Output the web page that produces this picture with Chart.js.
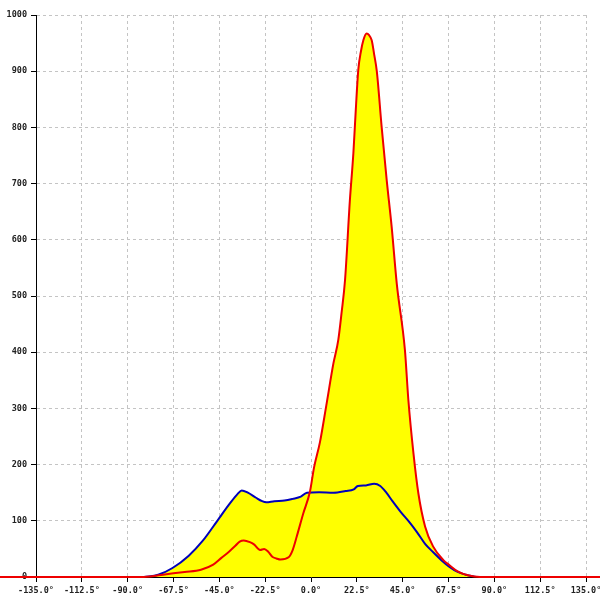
<!DOCTYPE html>
<html>
<head>
<meta charset="utf-8">
<script src="https://cdn.jsdelivr.net/npm/chart.js@4"></script>
<style>
  body { margin: 0; background: #fff; }
  #wrap { width: 600px; height: 600px; }
</style>
</head>
<body>
<div id="wrap"><canvas id="c" width="600" height="600"></canvas></div>
<script>
// angle (deg) / value pairs
const blueAngles = [-82, -75, -68, -60, -53, -46, -40, -36, -34, -31, -27, -24, -22, -18, -13, -9, -5, -2, 4, 11, 17, 21, 23, 27, 31, 34, 37, 40, 44, 48, 52, 56, 60, 64, 68, 72, 76, 81];
const blueValues = [0, 4, 16, 38, 65, 100, 130, 148, 154, 150, 141, 135, 133, 135, 136, 139, 143, 150, 151, 150, 153, 156, 162, 163, 166, 162, 150, 135, 116, 99, 80, 59, 44, 30, 18, 9, 4, 0];

const redAngles = [-160, -82, -71, -62, -54, -48, -44, -40, -37, -35, -33, -30, -28, -25, -23, -21, -19, -17, -15, -11, -9, -7, -3.8, -0.5, 1.5, 4.4, 7.5, 11, 13.4, 15, 16.7, 19.1, 20.8, 22, 23.2, 24.5, 25.7, 27.3, 28.5, 29.8, 31, 32.3, 34.7, 37.2, 39.6, 42.1, 46.1, 47.8, 50.3, 52.7, 56, 60, 65, 68, 72, 77, 83, 160];
const redValues = [0, 0, 5, 9, 13, 22, 34, 46, 56, 63, 65, 62, 58, 48, 50, 45, 36, 33, 31, 35, 48, 72, 113, 152, 195, 240, 305, 380, 422, 470, 528, 671, 754, 832, 902, 935, 955, 967, 964, 955, 930, 900, 800, 705, 623, 522, 404, 315, 220, 149, 90, 54, 30, 21, 10, 3, 0, 0];

const xMin = -135, xMax = 135, xStep = 22.5;
const yMin = 0, yMax = 1000, yStep = 100;

const toPoints = (xs, ys) => xs.map((x, i) => ({ x: x, y: ys[i] }));
const tickFont = { family: "DejaVu Sans Mono", size: 8.5, weight: "bold" };
const gridStyle = { color: "#c4c4c4", tickColor: "#000", tickLength: 5, tickBorderDash: [] };
const borderStyle = { color: "#000", width: 1, dash: [3, 3] };

new Chart(document.getElementById("c").getContext("2d"), {
  type: "line",
  data: {
    datasets: [
      {
        label: "red",
        data: toPoints(redAngles, redValues),
        borderColor: "#ee0000",
        borderWidth: 2,
        backgroundColor: "#ffff00",
        fill: "origin",
        pointRadius: 0,
        cubicInterpolationMode: "monotone",
        clip: false,
      },
      {
        label: "blue",
        data: toPoints(blueAngles, blueValues),
        borderColor: "#0000bb",
        borderWidth: 2,
        backgroundColor: "#ffff00",
        fill: "origin",
        pointRadius: 0,
        cubicInterpolationMode: "monotone",
      },
    ],
  },
  options: {
    responsive: false,
    animation: false,
    layout: { padding: { top: 15, right: 14, left: 0, bottom: 0 } },
    plugins: {
      legend: { display: false },
      tooltip: { enabled: false },
      filler: { drawTime: "beforeDatasetsDraw" },
    },
    scales: {
      x: {
        type: "linear",
        min: xMin,
        max: xMax,
        afterBuildTicks: (scale) => {
          const t = [];
          for (let v = xMin; v <= xMax + 0.001; v += xStep) t.push({ value: v });
          scale.ticks = t;
        },
        afterFit: (scale) => {
          scale.height = 23;
          scale.paddingLeft = 0;
          scale.paddingRight = 0;
        },
        border: borderStyle,
        grid: gridStyle,
        ticks: {
          autoSkip: false,
          maxRotation: 0,
          padding: 4,
          color: "#222",
          font: tickFont,
          callback: (v) => v.toFixed(1) + "°",
        },
      },
      y: {
        min: yMin,
        max: yMax,
        afterFit: (scale) => {
          scale.width = 36;
          scale.paddingTop = 0;
          scale.paddingBottom = 0;
        },
        border: borderStyle,
        grid: gridStyle,
        ticks: {
          stepSize: yStep,
          padding: 4,
          color: "#222",
          font: tickFont,
          callback: (v) => String(v),
        },
      },
    },
  },
});
</script>
</body>
</html>
